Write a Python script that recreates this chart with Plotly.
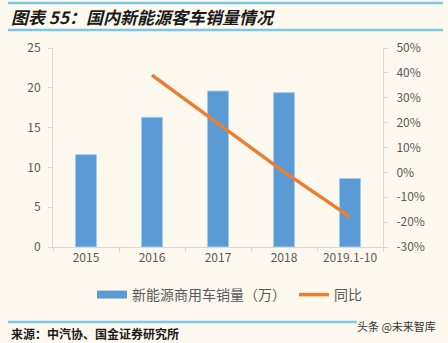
import plotly.graph_objects as go

# Domestic new-energy passenger bus sales and YoY growth
years = ["2015", "2016", "2017", "2018", "2019.1-10"]
sales_wan = [11.6, 16.3, 19.6, 19.4, 8.6]
yoy_years = ["2016", "2017", "2018", "2019.1-10"]
yoy_pct = [39.1, 19.8, 0.2, -17.9]

left_ticks = [0, 5, 10, 15, 20, 25]
right_ticks = [-30, -20, -10, 0, 10, 20, 30, 40, 50]

BG = "#FDF9EF"
BLUE_RULE = "#7CC7E8"
AXIS = "#D9D9D9"
TXT = "#595959"
BAR = "#5B9BD5"
FONT = "Noto Sans CJK SC"

W, H = 448, 343
# plot area in page pixels
PL, PR, PT, PB = 53, 383, 48, 247


def fx(x):
    return x / W


def fy(y):
    return 1 - y / H


fig = go.Figure()
fig.add_trace(go.Bar(
    x=years, y=sales_wan, name="新能源商用车销量（万）",
    marker=dict(color=BAR, line=dict(color="#A8CAEA", width=1)),
    xaxis="x", yaxis="y", showlegend=False, legendgroup="sales",
))
# wide rectangular legend key for the bars
fig.add_trace(go.Scatter(
    x=[None], y=[None], name="新能源商用车销量（万）", mode="lines",
    line=dict(color=BAR, width=8), legendgroup="sales", legend="legend",
))
fig.add_trace(go.Scatter(
    x=yoy_years, y=yoy_pct, name="同比", mode="lines",
    line=dict(color="#ED7D31", width=3.5),
    xaxis="x", yaxis="y2", legend="legend2",
))

# header / footer rules on a full-page pixel layer
rules = [((8, 443), 3), ((8, 443), 30), ((8, 357), 322)]
for (x0, x1), y in rules:
    fig.add_trace(go.Scatter(
        x=[x0, x1], y=[y, y], mode="lines",
        line=dict(color=BLUE_RULE, width=2.5),
        xaxis="x3", yaxis="y3", showlegend=False, hoverinfo="skip",
    ))

legend_style = dict(
    orientation="h", yanchor="middle", y=fy(295), xanchor="left",
    font=dict(size=14, color=TXT), bgcolor="rgba(0,0,0,0)",
    itemwidth=30, tracegroupgap=0,
)

fig.update_layout(
    width=W, height=H,
    paper_bgcolor=BG, plot_bgcolor="rgba(0,0,0,0)",
    margin=dict(l=0, r=0, t=0, b=0, autoexpand=False),
    bargap=0.68,
    font=dict(family=FONT, size=12, color=TXT),
    showlegend=True,
    legend=dict(x=fx(92), **legend_style),
    legend2=dict(x=fx(294), **legend_style),
    xaxis=dict(
        domain=[fx(PL), fx(PR)], anchor="y", automargin=False,
        type="category", showline=True, linecolor=AXIS, linewidth=1,
        ticks="outside", tickson="boundaries", ticklen=4, tickcolor=AXIS,
        showgrid=False, tickfont=dict(size=12, color=TXT),
    ),
    yaxis=dict(
        domain=[fy(PB), fy(PT)], anchor="x", automargin=False,
        range=[0, 25], tickvals=left_ticks, showline=True, linecolor=AXIS,
        ticks="outside", ticklen=4, tickcolor=AXIS, showgrid=False,
        zeroline=False, tickfont=dict(size=12, color=TXT), ticklabelstandoff=5,
    ),
    yaxis2=dict(
        range=[-30, 50], tickvals=right_ticks, automargin=False,
        ticktext=[f"{v}%" for v in right_ticks],
        overlaying="y", side="right", anchor="x", showline=True, linecolor=AXIS,
        ticks="outside", ticklen=4, tickcolor=AXIS, showgrid=False,
        zeroline=False, tickfont=dict(size=12, color=TXT), ticklabelstandoff=6,
    ),
    xaxis3=dict(domain=[0, 1], range=[0, W], visible=False, anchor="y3",
                fixedrange=True, automargin=False),
    yaxis3=dict(domain=[0, 1], range=[H, 0], visible=False, anchor="x3",
                fixedrange=True, automargin=False),
)

fig.add_annotation(
    xref="paper", yref="paper", x=fx(9), y=fy(16),
    xanchor="left", yanchor="middle", showarrow=False,
    text="<b><i>图表 55：国内新能源客车销量情况</i></b>",
    font=dict(family=FONT, size=17, color="#1A1A1A"),
)
fig.add_annotation(
    xref="paper", yref="paper", x=fx(9), y=fy(333),
    xanchor="left", yanchor="middle", showarrow=False,
    text="<b>来源：中汽协、国金证券研究所</b>",
    font=dict(family=FONT, size=12, color="#1A1A1A"),
)
fig.add_annotation(
    xref="paper", yref="paper", x=fx(438), y=fy(326),
    xanchor="right", yanchor="middle", showarrow=False,
    text="头条 @未来智库",
    font=dict(family=FONT, size=11, color="#333333"),
)

fig.write_html("out.html")
